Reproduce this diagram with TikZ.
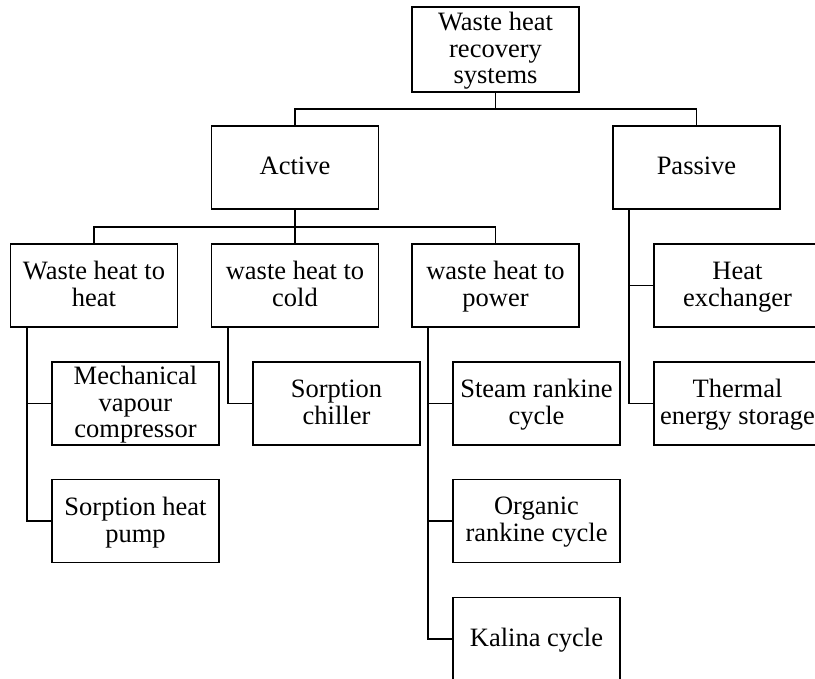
\documentclass[tikz,border=0pt]{standalone}
\usepackage{fontspec}
\setmainfont{Liberation Serif}

\begin{document}
\begin{tikzpicture}[x=1pt, y=-1pt,
    box/.style={draw, line width=1.6pt, minimum width=167pt, minimum height=83pt,
        inner sep=0pt, align=center, text depth=3pt,
        font=\fontsize{26.5}{26.7}\selectfont},
    link/.style={line width=1.6pt}]
    \useasboundingbox (0,0) rectangle (815,679);
    \clip (0,0) rectangle (815,679);
    % top levels
    \node[box, minimum height=85pt] (whr) at (495.5,49.5) {Waste heat\\recovery\\systems};
    \node[box] (active) at (295,167.5) {Active};
    \node[box] (passive) at (696.5,167.5) {Passive};
    \node[box] (toheat) at (94,285.5) {Waste heat to\\heat};
    \node[box] (tocold) at (295,285.5) {waste heat to\\cold};
    \node[box] (topower) at (495.5,285.5) {waste heat to\\power};
    % leaves
    \node[box] (mvc) at (135.5,403.5) {Mechanical\\vapour\\compressor};
    \node[box] (shp) at (135.5,521) {Sorption heat\\pump};
    \node[box] (chiller) at (336.5,403.5) {Sorption\\chiller};
    \node[box] (src) at (536.5,403.5) {Steam rankine\\cycle};
    \node[box] (orc) at (536.5,521) {Organic\\rankine cycle};
    \node[box] (kalina) at (536.5,639) {Kalina cycle};
    \node[box] (hx) at (737.5,285.5) {Heat\\exchanger};
    \node[box] (tes) at (737.5,403.5) {Thermal\\energy storage};

    \foreach \c in {active,passive}
        \draw[link] (whr.south) -- ++(0,16.5) -| (\c.north);
    \foreach \c in {toheat,tocold,topower}
        \draw[link] (active.south) -- ++(0,17.5) -| (\c.north);
    \draw[link] ([xshift=17pt]toheat.south west) |- (mvc.west);
    \draw[link] ([xshift=17pt]toheat.south west) |- (shp.west);
    \draw[link] ([xshift=17pt]tocold.south west) |- (chiller.west);
    \foreach \c in {src,orc,kalina}
        \draw[link] ([xshift=17pt]topower.south west) |- (\c.west);
    \foreach \c in {hx,tes}
        \draw[link] ([xshift=17pt]passive.south west) |- (\c.west);
\end{tikzpicture}
\end{document}
